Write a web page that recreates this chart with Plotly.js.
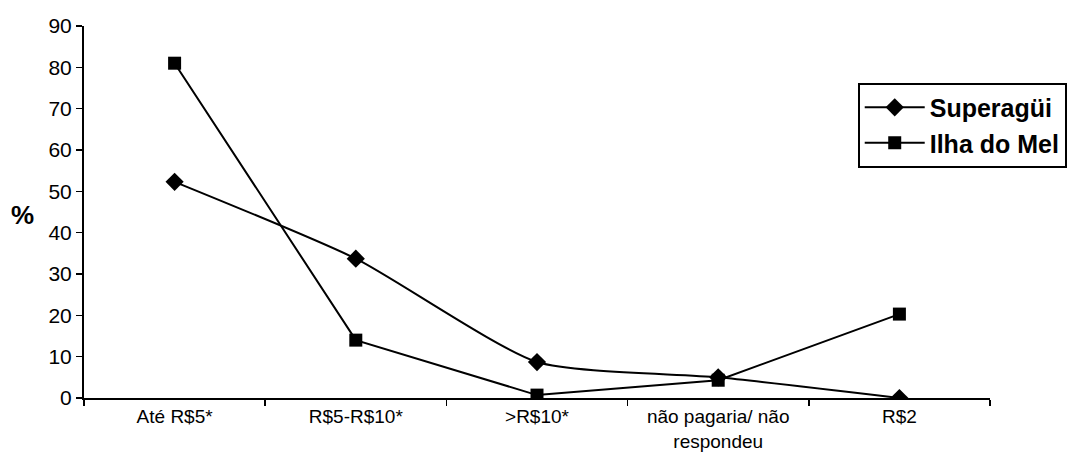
<!DOCTYPE html>
<html>
<head>
<meta charset="utf-8">
<script src="https://cdn.plot.ly/plotly-3.0.1.min.js"></script>
<style>html,body{margin:0;padding:0;background:#fff;}#chart{width:1074px;height:466px;}</style>
</head>
<body>
<div id="chart"></div>
<script>
const categories = ["Até R$5*", "R$5-R$10*", ">R$10*", "não pagaria/ não<br>respondeu", "R$2"];
const superagui = [52.3, 33.7, 8.7, 5.0, 0.0];
const ilhaDoMel = [81.0, 14.0, 0.7, 4.3, 20.3];
const yTicks = [0, 10, 20, 30, 40, 50, 60, 70, 80, 90];

const traces = [
  {
    x: categories, y: superagui, name: "Superagüi", type: "scatter", mode: "lines+markers",
    line: {color: "#000", width: 2, shape: "spline", smoothing: 0.6},
    marker: {symbol: "diamond", size: 14, color: "#000"}
  },
  {
    x: categories, y: ilhaDoMel, name: "Ilha do Mel", type: "scatter", mode: "lines+markers",
    line: {color: "#000", width: 2},
    marker: {symbol: "square", size: 13, color: "#000"}
  }
];

const layout = {
  width: 1074, height: 466,
  margin: {l: 84, r: 84, t: 26, b: 68, autoexpand: false},
  paper_bgcolor: "#fff", plot_bgcolor: "#fff",
  font: {family: "Liberation Sans, Arial, sans-serif", color: "#000"},
  showlegend: true,
  legend: {
    x: 0.854, y: 0.848, xanchor: "left", yanchor: "top",
    bordercolor: "#000", borderwidth: 2, bgcolor: "#fff",
    font: {size: 25, family: "Liberation Sans, Arial, sans-serif", weight: "bold"},
    tracegroupgap: 0, itemwidth: 60
  },
  xaxis: {
    type: "category", range: [-0.5, 4.5],
    showline: true, linecolor: "#000", linewidth: 2,
    ticks: "outside", tickson: "boundaries", ticklen: 6, tickwidth: 1.5, tickcolor: "#000",
    showgrid: false, zeroline: false,
    tickfont: {size: 19}
  },
  yaxis: {
    range: [0, 90], tickvals: yTicks,
    showline: true, linecolor: "#000", linewidth: 2,
    ticks: "outside", ticklen: 6, tickwidth: 1.5, tickcolor: "#000",
    showgrid: false, zeroline: false,
    tickfont: {size: 21}
  },
  annotations: [
    {text: "%", xref: "paper", yref: "paper", x: -0.068, y: 0.492,
     xanchor: "center", yanchor: "middle", showarrow: false,
     font: {size: 26, weight: "bold"}}
  ]
};

Plotly.newPlot("chart", traces, layout, {displayModeBar: false, staticPlot: true});
</script>
</body>
</html>
